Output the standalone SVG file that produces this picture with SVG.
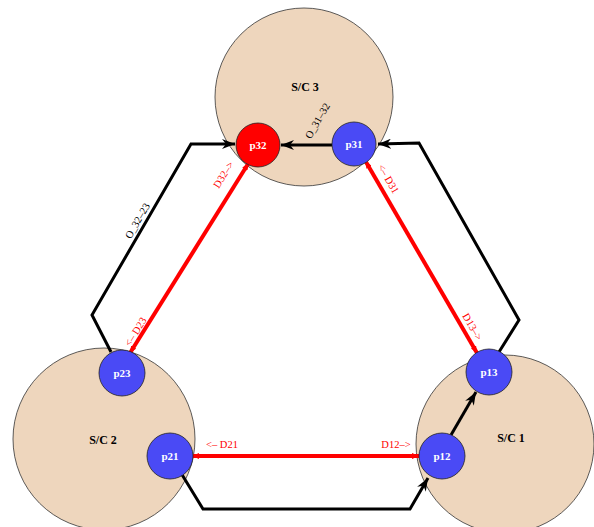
<svg xmlns="http://www.w3.org/2000/svg" width="594" height="527" viewBox="0 0 594 527">
<defs>
<style>
.sc{fill:#eed6bd;stroke:#333;stroke-width:0.8}
.port{fill:#4a4af5;stroke:#222;stroke-width:0.8}
.portr{fill:#ff0000;stroke:#222;stroke-width:0.8}
.sclbl{font-family:"Liberation Serif",serif;font-weight:bold;font-size:12px;fill:#000;text-anchor:middle}
.plbl{font-family:"Liberation Serif",serif;font-weight:bold;font-size:11px;fill:#fff;text-anchor:middle}
.blk{fill:none;stroke:#000;stroke-width:3;stroke-linejoin:miter}
.red{fill:none;stroke:#ff0000;stroke-width:4}
.rlbl{font-family:"Liberation Serif",serif;font-size:10.5px;fill:#ff0000;text-anchor:middle}
.blbl{font-family:"Liberation Serif",serif;font-size:10.5px;fill:#000;text-anchor:middle}
</style>
<marker id="ab" markerUnits="userSpaceOnUse" markerWidth="14" markerHeight="10" refX="13" refY="5" orient="auto" viewBox="0 0 14 10">
<path d="M0,0 L13,5 L0,10 L4,5 z" fill="#000"/>
</marker>
<marker id="ar" markerUnits="userSpaceOnUse" markerWidth="8" markerHeight="6" refX="7" refY="3" orient="auto" viewBox="0 0 8 6">
<path d="M0,0 L7,3 L0,6 z" fill="#ff0000"/>
</marker>
<marker id="ars" markerUnits="userSpaceOnUse" markerWidth="8" markerHeight="6" refX="1" refY="3" orient="auto" viewBox="0 0 8 6">
<path d="M7,0 L0,3 L7,6 z" fill="#ff0000"/>
</marker>
</defs>
<rect width="594" height="527" fill="#fff"/>
<g id="sc3"><circle class="sc" cx="304" cy="97" r="89"/><text class="sclbl" x="305" y="91">S/C 3</text></g>
<g id="sc2"><circle class="sc" cx="104" cy="439" r="91"/><text class="sclbl" x="103" y="444">S/C 2</text></g>
<g id="sc1"><circle class="sc" cx="505" cy="444" r="89"/><text class="sclbl" x="511" y="442">S/C 1</text></g>
<g id="connectors">
<path class="blk" d="M332,145 L281,145" marker-end="url(#ab)"/>
<path class="blk" d="M499,352 L519,320 L419,143 L378,144" marker-end="url(#ab)"/>
<path class="blk" d="M111,352 L92,315 L191,144 L235,144" marker-end="url(#ab)"/>
<path class="blk" d="M181,473 L203,509 L410,509 L428,478" marker-end="url(#ab)"/>
<path class="blk" d="M451,435 L476,392" marker-end="url(#ab)"/>
<path class="red" d="M248,164 L130,353" marker-start="url(#ars)" marker-end="url(#ar)"/>
<path class="red" d="M366,162 L477,353" marker-start="url(#ars)" marker-end="url(#ar)"/>
<path class="red" d="M193,456 L419,456" marker-start="url(#ars)" marker-end="url(#ar)"/>
<text class="blbl" transform="translate(318,121) rotate(-60)" y="3">O_31–32</text>
<text class="blbl" transform="translate(138,221) rotate(-60)" y="3">O_32–23</text>
<text class="rlbl" transform="translate(224,175) rotate(-58)" y="3">D32–&gt;</text>
<text class="rlbl" transform="translate(136,332) rotate(-58)" y="3">&lt;– D23</text>
<text class="rlbl" transform="translate(388,179) rotate(60)" y="3">&lt;– D31</text>
<text class="rlbl" transform="translate(472,327) rotate(60)" y="3">D13–&gt;</text>
<text class="rlbl" x="222" y="448">&lt;– D21</text>
<text class="rlbl" x="396" y="448">D12–&gt;</text>
</g>
<g id="p32"><circle class="portr" cx="258" cy="145" r="22"/><text class="plbl" x="258" y="149">p32</text></g>
<g id="p31"><circle class="port" cx="354" cy="144" r="22"/><text class="plbl" x="354" y="148">p31</text></g>
<g id="p23"><circle class="port" cx="122" cy="373" r="23"/><text class="plbl" x="122" y="377">p23</text></g>
<g id="p21"><circle class="port" cx="170" cy="456" r="23"/><text class="plbl" x="170" y="460">p21</text></g>
<g id="p13"><circle class="port" cx="489" cy="372" r="23"/><text class="plbl" x="489" y="376">p13</text></g>
<g id="p12"><circle class="port" cx="442" cy="456" r="23"/><text class="plbl" x="442" y="460">p12</text></g>
</svg>
